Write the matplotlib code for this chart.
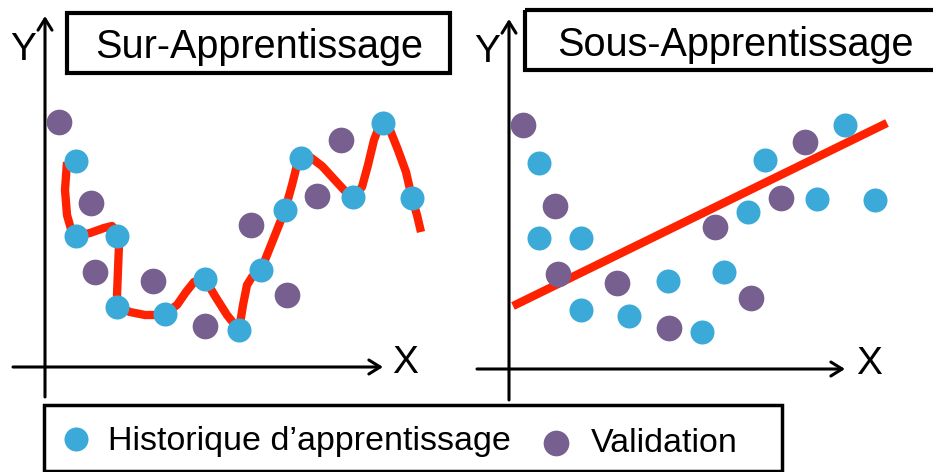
import matplotlib
matplotlib.use("Agg")
import matplotlib.pyplot as plt
from matplotlib.patches import Rectangle

# --- données (coordonnées, repère pixel, y vers le bas) ---
# Sur-apprentissage : points d'apprentissage / validation et courbe ajustée
sur_train_x = [76, 76, 117, 117, 165, 205, 239, 261, 285, 301, 353, 383, 412]
sur_train_y = [161, 236, 236, 307, 314, 279, 330, 270, 210, 158, 197, 123, 198]
sur_val_x = [59, 91, 95, 153, 205, 251, 287, 317, 341]
sur_val_y = [122, 203, 272, 281, 326, 225, 295, 196, 140]
sur_curve_x = [67, 65, 67, 71, 76, 90, 104, 112, 117, 119, 118, 117, 119, 130,
               145, 158, 167, 177, 186, 194, 205, 215, 227, 239, 243, 247, 252,
               261, 273, 285, 292, 297, 301, 310, 322, 333, 345, 353, 362, 368,
               374, 379, 383, 390, 398, 406, 412, 417, 421]
sur_curve_y = [162, 190, 215, 229, 236, 233, 228, 226, 232, 245, 270, 295, 307,
               312, 315, 315, 312, 305, 292, 282, 279, 296, 315, 330, 305, 285,
               277, 270, 240, 210, 185, 165, 158, 157, 166, 178, 191, 197, 187,
               165, 140, 127, 123, 130, 150, 172, 198, 215, 232]

# Sous-apprentissage : mêmes types de points, droite ajustée
sous_train_x = [539, 539, 581, 581, 629, 668, 702, 724, 748, 765, 817, 845, 875]
sous_train_y = [163, 238, 238, 310, 316, 281, 332, 272, 212, 160, 199, 125, 200]
sous_val_x = [523, 555, 558, 617, 669, 715, 751, 781, 805]
sous_val_y = [125, 206, 274, 283, 328, 227, 298, 198, 142]
sous_line_x = [513, 887]
sous_line_y = [306, 123]

titles = ["Sur-Apprentissage", "Sous-Apprentissage"]
legend_labels = ["Historique d\u2019apprentissage", "Validation"]

BLUE = "#3CAAD8"
PURPLE = "#77608F"
RED = "#FF2200"
FONT = ["Liberation Sans", "DejaVu Sans"]

fig = plt.figure(figsize=(9.33, 4.72), dpi=100)
ax = fig.add_axes([0, 0, 1, 1])
ax.set_xlim(0, 933)
ax.set_ylim(472, 0)
ax.axis("off")


def arrow(x0, y0, x1, y1):
    ax.annotate("", xy=(x1, y1), xytext=(x0, y0),
                arrowprops=dict(arrowstyle="->,head_length=0.45,head_width=0.28",
                                lw=2.2, color="black", mutation_scale=18,
                                shrinkA=0, shrinkB=0))


# axes dessinés à la main
arrow(45, 397, 45, 16)
arrow(13, 367, 383, 367)
arrow(509, 400, 509, 19)
arrow(477, 369, 845, 369)
for x, y, s in [(23, 60, "Y"), (405, 373, "X"), (487, 62, "Y"), (869, 374, "X")]:
    ax.text(x, y, s, fontsize=28, family=FONT, ha="center", va="baseline")

# cadres de titre
ax.add_patch(Rectangle((67, 13), 383, 60, fill=False, lw=3, ec="black"))
ax.add_patch(Rectangle((525, 10), 420, 60, fill=False, lw=3, ec="black",
                       clip_on=False))
ax.text(259, 58, titles[0], fontsize=28.5, family=FONT, ha="center", va="baseline")
ax.text(735, 56, titles[1], fontsize=28.5, family=FONT, ha="center", va="baseline")

# courbes
ax.plot(sur_curve_x, sur_curve_y, color=RED, lw=6, solid_joinstyle="round",
        solid_capstyle="butt", zorder=2)
ax.plot(sous_line_x, sous_line_y, color=RED, lw=6, solid_capstyle="butt", zorder=2)

# points
for tx, ty, vx, vy in [(sur_train_x, sur_train_y, sur_val_x, sur_val_y),
                       (sous_train_x, sous_train_y, sous_val_x, sous_val_y)]:
    ax.plot(vx, vy, "o", color=PURPLE, ms=18.5, mec="none", zorder=3)
    ax.plot(tx, ty, "o", color=BLUE, ms=17.3, mec="none", zorder=4)

# légende
ax.add_patch(Rectangle((44, 405), 738, 66, fill=False, lw=2.5, ec="black"))
ax.plot([76], [439], "o", color=BLUE, ms=17.3, mec="none")
ax.plot([556], [443], "o", color=PURPLE, ms=18.5, mec="none")
ax.text(108, 450, legend_labels[0], fontsize=24.5, family=FONT, va="baseline")
ax.text(591, 452, legend_labels[1], fontsize=24.5, family=FONT, va="baseline")

fig.savefig("out.png", dpi=100)
plt.close(fig)
